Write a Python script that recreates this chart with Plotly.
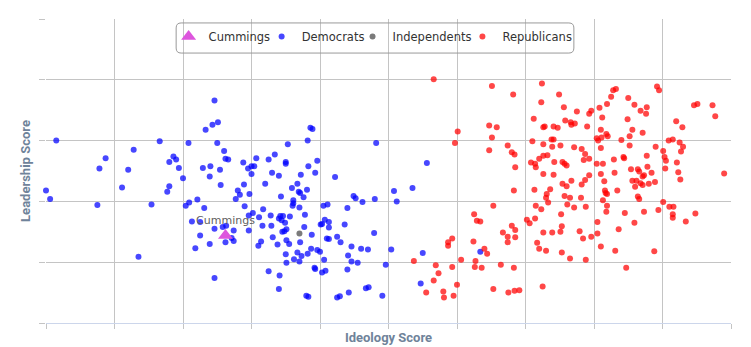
import plotly.graph_objects as go

# Ideology (0-10) and leadership (0-5) scores by party
dem_ideology = [
    0.15, 0.00, 0.06, 0.87, 0.78, 0.75, 1.28, 1.20, 1.11, 1.66, 1.54, 1.35, 1.80, 1.80, 1.77,
    2.46, 2.33, 2.43, 2.51, 2.08, 2.50, 2.60, 1.86, 1.90, 1.94, 2.62, 2.66, 2.29, 2.40, 2.54,
    2.39, 2.00, 2.55, 2.88, 2.95, 3.00, 3.04, 3.07, 3.00, 2.89, 2.80, 2.83, 2.77, 2.97, 2.21,
    2.09, 2.04, 2.31, 2.90, 2.96, 3.02, 3.11, 2.13, 2.25, 2.46, 2.58, 2.63, 2.74, 2.96, 2.25,
    2.71, 2.74, 2.62, 2.39, 2.18, 3.10, 2.46,
    3.86, 3.89, 3.53, 3.82, 3.25, 3.34, 3.50, 3.50, 3.96, 3.83, 3.93, 3.30, 3.40, 3.72, 4.22,
    3.20, 3.67, 3.59, 3.81, 3.69, 3.71, 3.76, 3.43, 3.61, 3.61, 3.60, 3.70, 4.05, 4.11, 3.17,
    3.28, 3.42, 3.46, 3.56, 3.40, 3.44, 3.49, 3.78, 4.40, 4.07, 4.13, 4.01, 4.03, 4.13, 4.36,
    3.16, 3.29, 3.77, 3.51, 3.45, 3.48, 3.88, 3.31, 4.10, 4.13, 4.25, 4.30, 3.51, 3.55, 3.38,
    3.71, 3.14, 3.87, 3.96, 4.00, 3.82, 3.67, 3.73, 3.50, 3.62, 3.70, 3.51, 4.06, 4.41, 3.92,
    3.93, 4.03, 4.08, 4.40, 3.25, 3.41, 3.40, 3.80, 3.83, 4.25, 4.29, 4.42,
    4.82, 5.56, 4.49, 4.52, 4.62, 4.80, 5.08, 5.12, 5.35, 4.79, 4.46, 4.60, 4.70, 5.04, 5.50,
    4.46, 4.55, 4.96, 5.47, 4.67, 4.71, 4.91, 6.34,
]
dem_leadership = [
    3.00, 2.18, 2.04, 2.71, 2.54, 1.94, 2.85, 2.52, 2.23, 2.99, 1.95, 1.09, 2.65, 2.25, 2.16,
    3.66, 3.18, 3.26, 3.30, 2.96, 2.96, 2.83, 2.74, 2.69, 2.55, 2.70, 2.69, 2.55, 2.58, 2.52,
    2.41, 2.38, 2.27, 2.64, 2.54, 2.58, 2.58, 2.71, 2.45, 2.28, 2.18, 2.11, 2.04, 2.12, 2.03,
    1.98, 1.93, 1.89, 1.92, 1.77, 1.81, 1.74, 1.67, 1.66, 1.55, 1.58, 1.60, 1.52, 1.52, 1.44,
    1.40, 1.35, 1.33, 1.30, 1.23, 1.27, 0.74,
    3.21, 3.19, 2.94, 3.00, 2.69, 2.77, 2.65, 2.62, 2.67, 2.58, 2.47, 2.47, 2.42, 2.44, 2.40,
    2.29, 2.29, 2.22, 2.19, 2.16, 2.14, 2.07, 2.08, 2.02, 1.97, 1.93, 1.90, 1.93, 1.95, 1.87,
    1.77, 1.76, 1.76, 1.75, 1.72, 1.69, 1.65, 1.78, 1.89, 1.70, 1.66, 1.62, 1.63, 1.57, 1.62,
    1.60, 1.60, 1.58, 1.54, 1.50, 1.51, 1.45, 1.41, 1.39, 1.38, 1.42, 1.33, 1.36, 1.30, 1.29,
    1.33, 1.34, 1.22, 1.20, 1.17, 1.14, 1.16, 1.10, 1.13, 1.05, 1.01, 0.99, 1.04, 1.11, 0.91,
    0.89, 0.83, 0.86, 0.88, 0.85, 0.78, 0.56, 0.45, 0.43, 0.42, 0.44, 0.50,
    2.96, 2.63, 2.09, 2.05, 1.99, 2.04, 2.17, 2.00, 2.22, 1.48, 1.26, 1.22, 1.21, 1.21, 1.15,
    1.01, 0.99, 0.96, 0.65, 0.57, 0.59, 0.45, 1.17,
]

rep_ideology = [
    5.37, 5.69, 5.73, 5.66, 5.55,
    5.66, 6.01, 5.97, 6.47, 6.47, 6.25, 6.29, 6.34, 5.93, 5.87, 5.87, 6.24, 6.40, 6.44, 6.06,
    6.27, 5.93, 6.26, 6.36, 6.00, 5.80, 5.81, 5.95,
    6.51, 6.82, 7.24, 7.23, 7.49, 7.56, 7.12, 7.58, 7.66, 7.67, 6.58, 6.51, 7.28, 7.26, 7.41,
    7.47, 7.10, 7.26, 7.38, 7.41, 7.39, 7.51, 6.74, 6.80, 6.84, 6.85, 7.32, 7.26, 7.20, 7.08,
    7.14, 7.15, 7.42, 7.54, 7.57, 7.60, 7.26, 7.41, 7.71, 7.67, 7.54, 7.60, 6.83, 7.13, 7.36,
    7.31, 7.30, 7.33, 7.57, 7.65, 7.61, 6.53, 7.15, 7.23, 7.71, 7.02, 7.06, 7.14, 7.52, 6.80,
    6.67, 6.85, 6.74, 6.85, 6.74, 7.26, 7.39, 7.53, 7.51, 7.17, 7.20, 7.30, 7.53, 7.65, 6.64,
    6.83, 7.25, 6.53, 6.75, 6.84, 6.91,
    8.28, 8.32, 8.25, 8.19, 8.08, 8.50, 8.59, 8.77, 8.68, 8.76, 8.92, 8.95, 7.75, 7.93, 7.96,
    7.72, 7.90, 8.12, 8.49, 8.10, 8.18, 8.20, 8.11, 8.04, 8.06, 8.56, 8.71, 8.52, 8.40, 8.52,
    8.10, 7.82, 7.87, 7.93, 7.85, 8.90, 8.77, 8.43, 8.44, 8.29, 8.04, 8.13, 8.78, 8.54, 8.64,
    8.66, 8.73, 8.71, 8.84, 8.30, 8.10, 7.93, 8.15, 7.87, 7.82, 8.56, 8.62, 8.68, 8.80, 8.89,
    8.71, 8.60, 8.16, 8.17, 8.34, 8.19, 8.64, 8.66, 7.81, 8.13, 8.19, 8.18, 7.88, 8.45, 8.59,
    8.73, 8.94, 8.05, 8.05, 8.36, 7.79, 7.84, 7.96, 8.10, 8.31, 8.88, 7.88, 8.47,
    9.46, 9.51, 9.73, 9.77, 9.20, 9.29, 9.09, 9.15, 9.25, 9.30, 9.27, 9.01, 9.03, 9.05, 9.21,
    9.04, 9.23, 9.26, 9.90, 9.01, 9.10, 9.16, 9.15, 9.15, 9.48, 9.34, 10.01,
]
rep_leadership = [
    1.02, 0.95, 0.82, 0.70, 0.50,
    4.01, 3.15, 2.96, 3.25, 2.84, 1.79, 1.68, 1.67, 1.39, 1.33, 1.27, 1.34, 1.22, 1.14, 1.04,
    1.02, 0.92, 0.92, 0.91, 0.63, 0.52, 0.42, 0.45,
    3.90, 3.76, 3.94, 3.63, 3.76, 3.55, 3.36, 3.33, 3.30, 3.26, 3.22, 3.05, 3.23, 3.22, 3.23,
    3.21, 2.99, 2.94, 3.02, 3.02, 2.90, 2.92, 2.92, 2.81, 2.77, 2.56, 2.76, 2.75, 2.70, 2.64,
    2.62, 2.56, 2.65, 2.65, 2.62, 2.59, 2.45, 2.44, 2.89, 2.34, 2.29, 2.25, 2.18, 2.19, 2.20,
    2.12, 2.06, 1.98, 2.09, 2.06, 1.95, 1.93, 1.93, 1.87, 1.90, 1.70, 1.64, 1.72, 1.79, 1.60,
    1.49, 1.53, 1.42, 1.41, 1.33, 1.49, 1.49, 1.59, 1.50, 1.32, 1.22, 1.19, 1.16, 1.06, 0.96,
    0.91, 0.60, 0.56, 0.50, 0.53, 0.54,
    3.83, 3.85, 3.72, 3.60, 3.54, 3.70, 3.59, 3.55, 3.49, 3.44, 3.89, 3.83, 3.48, 3.44, 3.49,
    3.28, 3.23, 3.38, 3.35, 3.18, 3.11, 3.07, 3.05, 3.04, 3.00, 3.18, 3.13, 3.07, 3.01, 2.92,
    2.88, 2.86, 2.78, 2.70, 2.68, 2.90, 2.75, 2.73, 2.71, 2.69, 2.62, 2.62, 2.57, 2.53, 2.53,
    2.49, 2.43, 2.41, 2.47, 2.47, 2.45, 2.43, 2.33, 2.35, 2.28, 2.34, 2.34, 2.30, 2.29, 2.32,
    2.27, 2.24, 2.18, 2.14, 2.18, 2.12, 2.08, 2.04, 2.06, 2.02, 1.93, 1.83, 1.91, 1.81, 1.65,
    1.83, 1.86, 1.66, 1.47, 1.54, 1.51, 1.39, 1.42, 1.26, 1.19, 1.18, 1.04, 0.91,
    3.58, 3.60, 3.58, 3.40, 3.32, 3.22, 3.00, 3.02, 2.97, 2.90, 2.82, 2.83, 2.73, 2.67, 2.64,
    2.54, 2.48, 2.36, 2.46, 1.99, 1.91, 1.91, 1.79, 1.73, 1.80, 1.67, 1.44,
]

ind_ideology = [3.70]
ind_leadership = [1.47]

highlight_name = ["Cummings"]
highlight_ideology = [2.62]
highlight_leadership = [1.44]

fig = go.Figure()

fig.add_trace(go.Scatter(
    x=dem_ideology, y=dem_leadership, mode="markers", name="Democrats",
    marker=dict(color="rgba(0,0,255,0.72)", size=6, line=dict(width=0)),
    legend="legend2", cliponaxis=False,
))
fig.add_trace(go.Scatter(
    x=ind_ideology, y=ind_leadership, mode="markers", name="Independents",
    marker=dict(color="rgba(90,90,90,0.8)", size=6, line=dict(width=0)),
    legend="legend3", cliponaxis=False,
))
fig.add_trace(go.Scatter(
    x=rep_ideology, y=rep_leadership, mode="markers", name="Republicans",
    marker=dict(color="rgba(255,0,0,0.72)", size=6, line=dict(width=0)),
    legend="legend4", cliponaxis=False,
))
fig.add_trace(go.Scatter(
    x=highlight_ideology, y=highlight_leadership, mode="markers+text", name="Cummings",
    text=highlight_name, textposition="top center",
    textfont=dict(family="DejaVu Sans, sans-serif", size=11, color="#606060"),
    marker=dict(color="#dd55dd", size=13, symbol="triangle-up", line=dict(width=0)),
    legend="legend", cliponaxis=False,
))

# Rounded frame around the legend row (paper coordinates)
lx0, lx1, ly0, ly1 = 0.190, 0.7706, 0.888, 0.987
rx, ry = 0.0073, 0.0164
legend_frame = (
    f"M {lx0 + rx},{ly1} L {lx1 - rx},{ly1} Q {lx1},{ly1} {lx1},{ly1 - ry} "
    f"L {lx1},{ly0 + ry} Q {lx1},{ly0} {lx1 - rx},{ly0} "
    f"L {lx0 + rx},{ly0} Q {lx0},{ly0} {lx0},{ly0 + ry} "
    f"L {lx0},{ly1 - ry} Q {lx0},{ly1} {lx0 + rx},{ly1} Z"
)


def legend_slot(x):
    return dict(
        orientation="h", x=x, xanchor="left", y=0.99, yanchor="top",
        bgcolor="rgba(0,0,0,0)", borderwidth=0,
        font=dict(family="DejaVu Sans, sans-serif", size=11.5, color="#333333"),
        itemclick=False, itemdoubleclick=False,
    )


grid = "#c4c4c4"
fig.update_layout(
    width=751, height=347,
    margin=dict(l=46, r=20, t=19, b=24),
    paper_bgcolor="white", plot_bgcolor="white",
    font=dict(family="DejaVu Sans, sans-serif", size=12, color="#333333"),
    showlegend=True,
    legend=legend_slot(0.1790),
    legend2=legend_slot(0.3148),
    legend3=legend_slot(0.4475),
    legend4=legend_slot(0.6079),
    shapes=[dict(type="path", xref="paper", yref="paper", path=legend_frame,
                 line=dict(color="#999999", width=1), fillcolor="rgba(0,0,0,0)", layer="above")],
    xaxis=dict(
        range=[0, 10], dtick=1, tick0=0, showticklabels=False, automargin=False,
        showgrid=True, gridcolor=grid, gridwidth=1, zeroline=False,
        ticks="outside", ticklen=5, tickcolor=grid,
        showline=True, linecolor="#ccd6eb", linewidth=1,
        title=dict(text="<b>Ideology Score</b>", standoff=4,
                   font=dict(family="Liberation Sans Narrow, Roboto, sans-serif", size=13, color="#6f839a")),
    ),
    yaxis=dict(
        range=[0, 5], dtick=1, tick0=0, showticklabels=False, automargin=False,
        showgrid=True, gridcolor=grid, gridwidth=1, zeroline=False,
        ticks="outside", ticklen=6, tickcolor=grid, showline=False,
        title=dict(text="<b>Leadership Score</b>", standoff=5,
                   font=dict(family="Liberation Sans Narrow, Roboto, sans-serif", size=13, color="#6f839a")),
    ),
)

fig.write_html("out.html")
